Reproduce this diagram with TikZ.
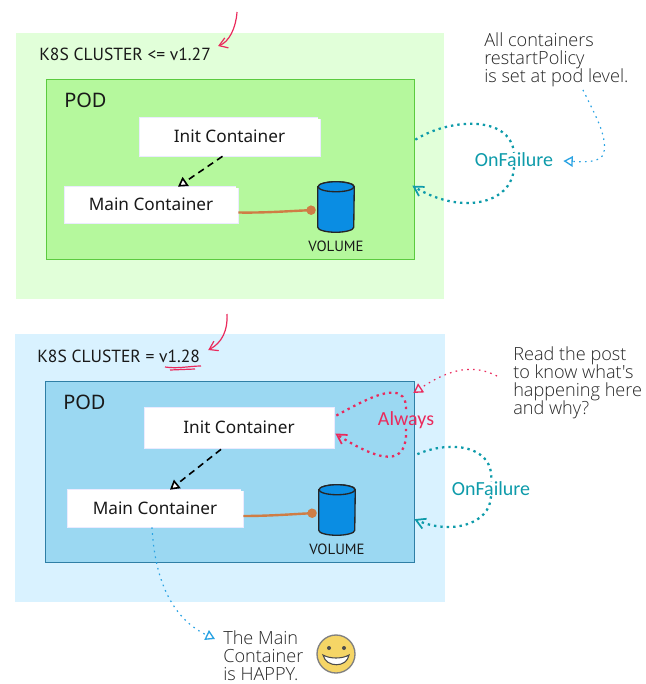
\documentclass[tikz,border=0pt]{standalone}
\usepackage{fontspec}
\usetikzlibrary{arrows.meta,calc}
\newfontfamily\labelfont{Noto Sans}
\newfontfamily\titlefont{PT Sans}
\newfontfamily\notefont{Open Sans Light}
\newfontfamily\handfont{Carlito}
\definecolor{clgreen}{HTML}{E1FFD9}
\definecolor{podgreen}{HTML}{B5F89D}
\definecolor{edgegreen}{HTML}{5BCB3F}
\definecolor{clblue}{HTML}{D9F2FF}
\definecolor{podblue}{HTML}{9BD8F2}
\definecolor{edgeblue}{HTML}{2F7FA6}
\definecolor{teal}{HTML}{0E9BAA}
\definecolor{pinkred}{HTML}{EA2A5C}
\definecolor{skyblue}{HTML}{2BA3E3}
\definecolor{rust}{HTML}{CF7D45}
\definecolor{drum}{HTML}{0A8DE3}
\definecolor{notecol}{HTML}{262626}
\definecolor{smile}{HTML}{F5D566}
\tikzset{
  cluster/.style={inner sep=0pt,anchor=north west},
  pod/.style={draw,line width=1pt,inner sep=0pt,anchor=north west},
  box/.style={fill=white,draw=white!92!blue,line width=.5pt,inner sep=0pt,font=\labelfont\fontsize{12.9pt}{15pt}\selectfont,text=black!90},
  clustertitle/.style={inner sep=0pt,anchor=west,font=\titlefont\fontsize{13.15pt}{15pt}\selectfont,text=black!90},
  podtitle/.style={inner sep=0pt,anchor=west,font=\labelfont\fontsize{15pt}{17pt}\selectfont,text=black!90},
  voltitle/.style={inner sep=0pt,font=\titlefont\fontsize{11.1pt}{13pt}\selectfont,text=black!90},
  note/.style={inner sep=0pt,anchor=north west,align=left,text=notecol,font=\notefont\fontsize{13.6pt}{13.6pt}\selectfont},
  hand/.style={inner sep=0pt,font=\handfont\fontsize{15pt}{17pt}\selectfont},
  drumbox/.style={inner sep=0pt,minimum width=27pt,minimum height=37.5pt},
  drumline/.style={draw=black!85,line width=1pt,fill=drum},
  dep/.style={draw=black,line width=1.2pt,dash pattern=on 5pt off 3.5pt,-{Triangle[open,length=7pt,width=8pt,fill=white]}},
  link/.style={draw=rust,line width=1.8pt,-{Circle[length=7pt,width=7pt]}},
  loop/.style={line width=1.7pt,dash pattern=on 1.8pt off 3pt},
  fine/.style={line width=.9pt,dash pattern=on 1.2pt off 3.2pt},
  barb/.style={-{Straight Barb[length=7pt,width=8pt,line width=1.3pt]}},
  hollow/.style={-{Triangle[open,length=7pt,width=8pt,line width=1pt]}},
  pointer/.style={draw=pinkred,line width=.9pt,-{Straight Barb[length=6pt,width=8pt,line width=.9pt]}},
}
\newcommand{\drumshape}[1]{%
  \draw[drumline] ($(#1.north west)+(0,5)$) -- ($(#1.south west)+(0,-5)$)
    arc[start angle=180,end angle=360,x radius=13.5pt,y radius=3.75pt]
    -- ($(#1.north east)+(0,5)$)
    arc[start angle=0,end angle=180,x radius=13.5pt,y radius=3.75pt] -- cycle;
  \draw[drumline] ($(#1.north)+(0,5)$) ellipse[x radius=13.5pt,y radius=3.75pt];}
\begin{document}
\begin{tikzpicture}[x=.75pt,y=-.75pt]
\useasboundingbox (0,0) rectangle (645,684);
% clusters and pods
\node[cluster,fill=clgreen,minimum width=321pt,minimum height=199.5pt] (c1) at (16,33) {};
\node[pod,fill=podgreen,draw=edgegreen,minimum width=276pt,minimum height=135pt] (pod1) at (46,79) {};
\node[cluster,fill=clblue,minimum width=322.5pt,minimum height=201pt] (c2) at (15,334) {};
\node[pod,fill=podblue,draw=edgeblue,minimum width=276.75pt,minimum height=135.75pt] (pod2) at (45,381) {};
% titles
\node[clustertitle] (t1) at (39,54) {K8S CLUSTER <= v1.27};
\node[clustertitle] (t2) at (37,356) {K8S CLUSTER = v1.28};
\node[podtitle] (p1) at (64,100) {POD};
\node[podtitle] (p2) at (63,402) {POD};
% containers
\node[box,minimum width=135.75pt,minimum height=29.25pt] (init1) at (229.5,136.5) {Init Container};
\node[box,minimum width=130.5pt,minimum height=27.75pt] (main1) at (151,204.5) {Main Container};
\node[box,minimum width=142.5pt,minimum height=30.75pt] (init2) at (239,427.5) {Init Container};
\node[box,minimum width=132pt,minimum height=28.5pt] (main2) at (155,508) {Main Container};
\fill[podgreen] ($(init1.north east)+(-2,-1)$) rectangle ++(4,3);
\fill[podgreen] ($(main1.north east)+(-2,-1)$) rectangle ++(4,3);
\fill[podblue] ($(main2.north east)+(-2,-1)$) rectangle ++(4,3);
% volumes
\node[drumbox] (vol1) at (336,207) {};
\node[drumbox] (vol2) at (337,510) {};
\drumshape{vol1}
\drumshape{vol2}
\node[voltitle] (vt1) at (336,246) {VOLUME};
\node[voltitle] (vt2) at (337,549) {VOLUME};
% labels and notes
\node[hand,text=teal] (onf1) at (514,160) {OnFailure};
\node[hand,text=teal] (onf2) at (491,489) {OnFailure};
\node[hand,text=pinkred] (alw) at (406,420) {Always};
\node[note] (n1) at (484,32) {All containers\\restartPolicy\\is set at pod level.};
\node[note] (n2) at (513,346) {Read the post\\to know what's\\happening here\\and why?};
\node[note] (n3) at (223,630) {The Main\\Container\\is HAPPY.};
% smiley
\node[circle,draw=black!50,line width=1pt,fill=smile,minimum size=28.5pt,inner sep=0pt] (sm) at (336,654) {};
\fill[black!70] (329,648) circle (2) (344,648) circle (2);
\draw[black!70,fill=white,line width=.8pt] (323,655) .. controls (330,659) and (342,659) .. (349,655) .. controls (347,668) and (326,668) .. (323,655) -- cycle;
% connectors
\draw[dep] ($(init1.south)+(-7,0)$) -- ($(main1.north)+(27,1)$);
\draw[dep] ($(init2.south)+(-18,1)$) -- ($(main2.north)+(15,1)$);
\draw[link] ($(main1.east)+(0,8)$) .. controls (265,213) and (290,211) .. ($(vol1.west)+(-2,3)$);
\draw[link] ($(main2.east)+(0,8)$) .. controls (270,516) and (295,514) .. ($(vol2.west)+(-2,3)$);
% restart loops
\draw[teal,loop] ($(pod1.east)+(0,-30)$) .. controls (450,118) and (510,115) .. (onf1.north);
\draw[teal,loop,barb] (onf1.south) .. controls (512,205) and (460,215) .. ($(pod1.east)+(-3,16)$);
\draw[teal,loop] ($(pod2.east)+(2,-18)$) .. controls (450,440) and (495,445) .. (onf2.north);
\draw[teal,loop,barb] (onf2.south) .. controls (490,525) and (450,535) .. ($(pod2.east)+(-1,47)$);
\draw[pinkred,loop] ($(init2.east)+(2,-12)$) .. controls (365,400) and (408,375) .. (alw.north);
\draw[pinkred,loop,barb] (alw.south) .. controls (408,468) and (380,462) .. ($(init2.east)+(1,6)$);
% notes' pointers
\draw[skyblue,fine,hollow] ($(n1.south west)+(99,3)$) .. controls (595,115) and (607,135) .. (604,152) .. controls (602,163) and (585,162) .. ($(onf1.east)+(10,1)$);
\draw[pinkred,fine,hollow] ($(n2.north west)+(-16,30)$) .. controls (470,362) and (445,372) .. ($(pod2.north east)+(-2,12)$);
\draw[skyblue,fine,hollow] ($(main2.south)+(-3,0)$) .. controls (155,585) and (175,620) .. ($(n3.north west)+(-8,9)$);
% pointers to the versions
\draw[pointer] (237,12) .. controls (236,28) and (229,42) .. ($(t1.east)+(7,-8)$);
\draw[pointer] (227,314) .. controls (228,330) and (222,343) .. ($(t2.east)+(8,-6)$);
\draw[pinkred,line width=.9pt] (165,367) .. controls (178,369) and (190,366) .. (201,366) (170,370) -- (195,369);
\end{tikzpicture}
\end{document}
